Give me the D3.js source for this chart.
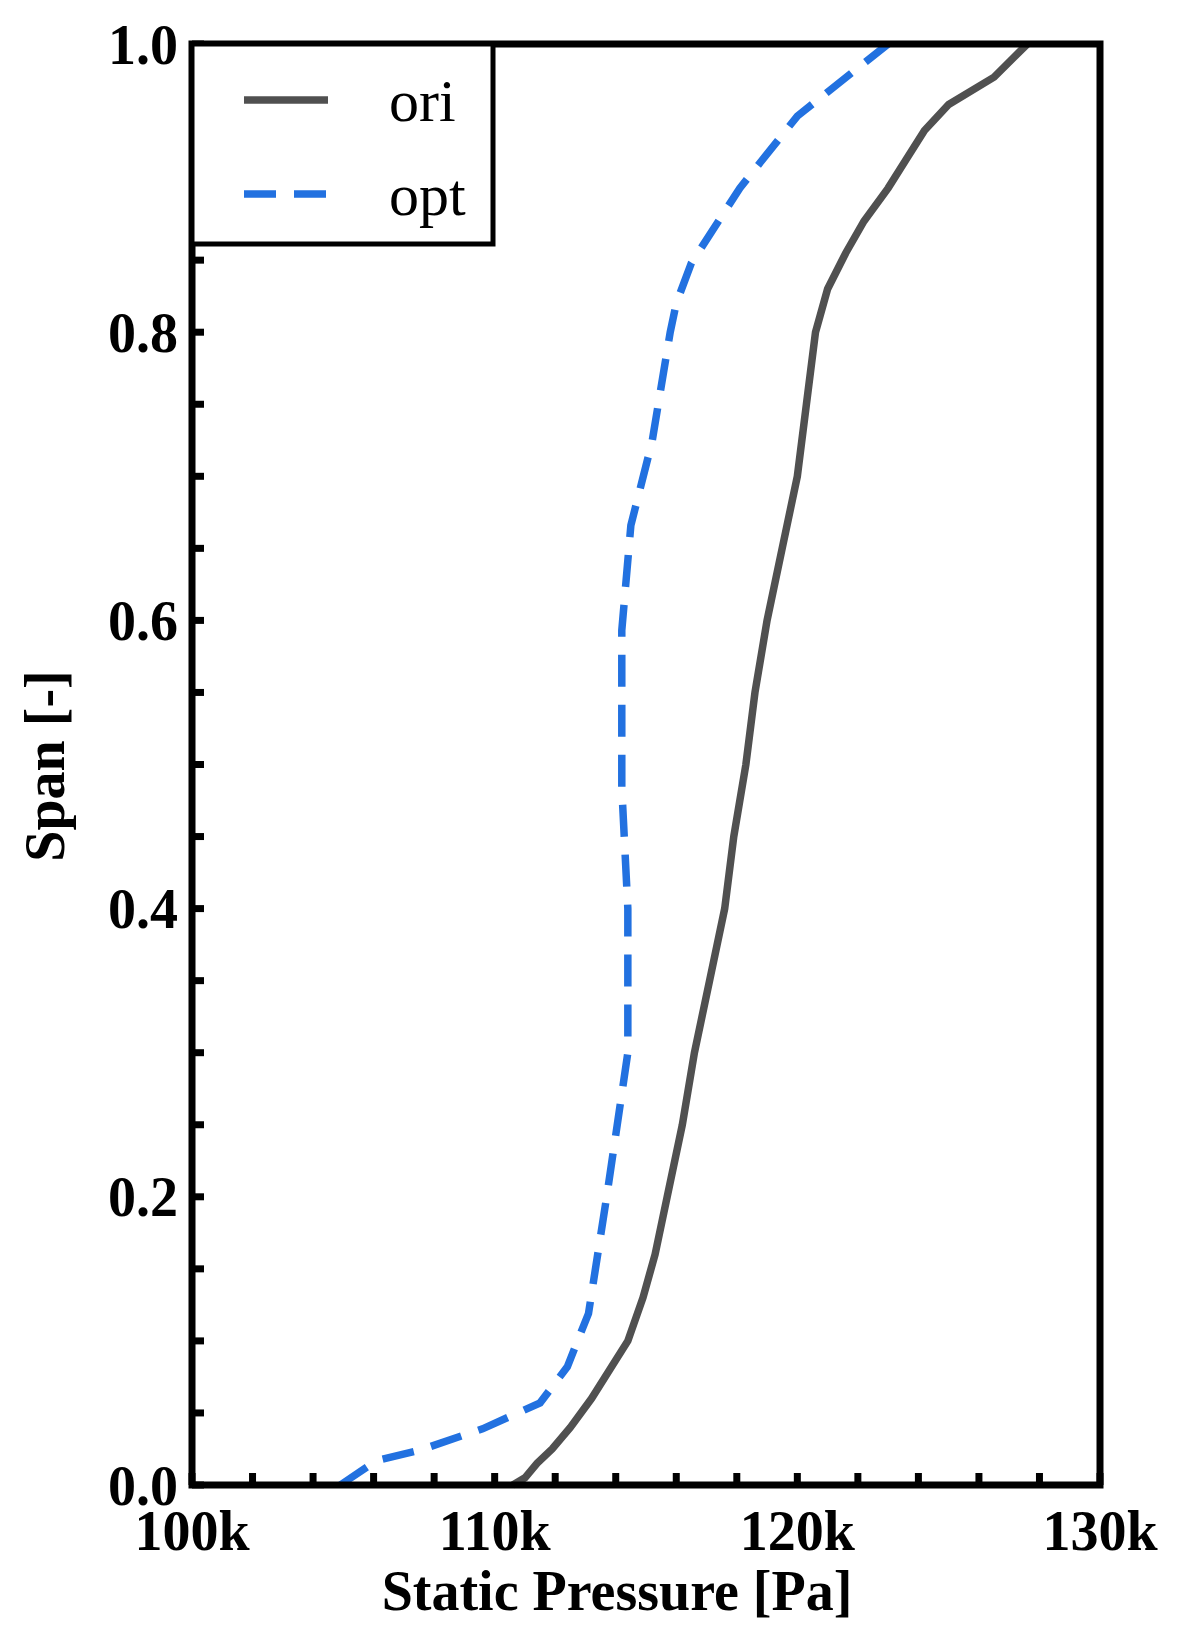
<!DOCTYPE html>
<html><head><meta charset="utf-8">
<script src="https://cdn.jsdelivr.net/npm/d3@7"></script>
<style>body{margin:0;background:#fff}</style>
</head><body>
<svg id="chart" width="1193" height="1648"></svg>
<script>
// pressure in kPa, span fraction
var oriPressure = [110.6,111.0,111.4,111.9,112.5,113.2,113.8,114.4,114.9,115.3,115.7,116.2,116.6,117.1,117.6,117.9,118.3,118.6,119.0,119.5,120.0,120.3,120.6,121.0,121.6,122.2,123.0,123.6,124.2,125.0,126.5,127.6];
var oriSpan     = [0,0.005,0.015,0.025,0.04,0.06,0.08,0.1,0.13,0.16,0.2,0.25,0.3,0.35,0.4,0.45,0.5,0.55,0.6,0.65,0.7,0.75,0.8,0.83,0.855,0.877,0.9,0.92,0.94,0.958,0.977,1.0];
var optPressure = [104.9,106.1,107.5,109.6,111.5,112.4,113.1,113.7,114.4,114.4,114.2,114.2,114.5,115.2,115.8,116.0,116.5,118.1,120.0,123.0];
var optSpan     = [0,0.017,0.024,0.039,0.057,0.082,0.119,0.2,0.3,0.4,0.484,0.593,0.666,0.724,0.8,0.82,0.848,0.9,0.95,1.0];
var xTicks = [100,110,120,130];
var yTicks = [0,0.2,0.4,0.6,0.8,1.0];

var svg = d3.select("#chart");
var mLeft = 192, mRight = 1100, mTop = 44, mBottom = 1485;
var x = d3.scaleLinear().domain([100,130]).range([mLeft,mRight]);
var y = d3.scaleLinear().domain([0,1]).range([mBottom,mTop]);

var serif = "'Liberation Serif','Times New Roman',serif";

// minor ticks (inward)
svg.append("g").selectAll("line")
	.data(d3.range(100,130.01,2))
	.join("line")
	.attr("x1", d => x(d)).attr("x2", d => x(d))
	.attr("y1", mBottom).attr("y2", mBottom - 12)
	.attr("stroke","#000").attr("stroke-width",7);
svg.append("g").selectAll("line")
	.data(d3.range(0,1.001,0.05))
	.join("line")
	.attr("y1", d => y(d)).attr("y2", d => y(d))
	.attr("x1", mLeft).attr("x2", mLeft + 12)
	.attr("stroke","#000").attr("stroke-width",7);

var line = d3.line().x(d => x(d[0])).y(d => y(d[1]));

svg.append("path")
	.datum(d3.zip(oriPressure, oriSpan))
	.attr("d", line)
	.attr("fill","none").attr("stroke","#505050").attr("stroke-width",7.5);
svg.append("path")
	.datum(d3.zip(optPressure, optSpan))
	.attr("d", line)
	.attr("fill","none").attr("stroke","#2271e0").attr("stroke-width",7.5)
	.attr("stroke-dasharray","32,18");

// frame
svg.append("rect")
	.attr("x",mLeft).attr("y",mTop).attr("width",mRight-mLeft).attr("height",mBottom-mTop)
	.attr("fill","none").attr("stroke","#000").attr("stroke-width",7);

// tick labels
svg.append("g").selectAll("text")
	.data(xTicks).join("text")
	.attr("x", d => x(d)).attr("y", 1550)
	.attr("text-anchor","middle")
	.style("font", "bold 56px " + serif)
	.text(d => d + "k");
svg.append("g").selectAll("text")
	.data(yTicks).join("text")
	.attr("x", 178).attr("y", d => y(d)).attr("dy","0.35em")
	.attr("text-anchor","end")
	.style("font", "bold 56px " + serif)
	.text(d => d.toFixed(1));

svg.append("text")
	.attr("x", 617).attr("y", 1610).attr("text-anchor","middle")
	.style("font", "bold 56px " + serif)
	.text("Static Pressure [Pa]");
svg.append("text")
	.attr("transform","translate(64,766) rotate(-90)")
	.attr("text-anchor","middle")
	.style("font", "bold 56px " + serif)
	.text("Span [-]");

// legend
svg.append("rect")
	.attr("x",mLeft).attr("y",mTop).attr("width",301).attr("height",200)
	.attr("fill","#fff").attr("stroke","#000").attr("stroke-width",5);
var legend = [["ori","#505050",null,100],["opt","#2271e0","32,18",194]];
legend.forEach(function(l){
	svg.append("line")
		.attr("x1",244).attr("x2",328).attr("y1",l[3]).attr("y2",l[3])
		.attr("stroke",l[1]).attr("stroke-width",7.5)
		.attr("stroke-dasharray",l[2]);
	svg.append("text")
		.attr("x",389).attr("y",l[3]).attr("dy","0.35em")
		.style("font","60px " + serif)
		.text(l[0]);
});
</script>
</body></html>
